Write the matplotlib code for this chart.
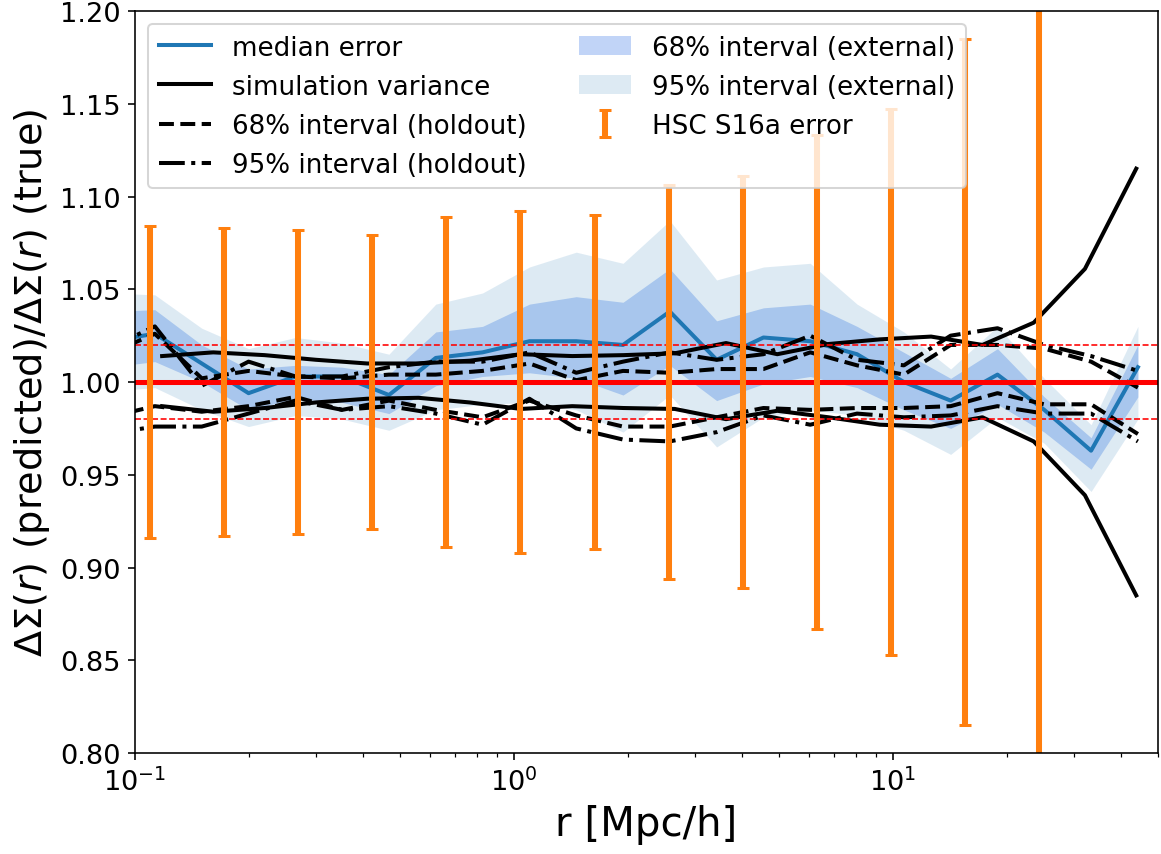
import matplotlib.pyplot as plt

# radial bins of the emulator test (Mpc/h)
r = [0.0849, 0.1128, 0.150, 0.1993, 0.265, 0.352, 0.4677, 0.6216, 0.826, 1.098,
     1.459, 1.939, 2.576, 3.424, 4.550, 6.046, 8.035, 10.68, 14.19, 18.86,
     25.06, 33.30, 44.26]

median_err = [1.022, 1.026, 1.010, 0.994, 1.003, 1.003, 0.993, 1.013, 1.016, 1.022,
              1.022, 1.020, 1.038, 1.012, 1.024, 1.022, 1.015, 1.000, 0.990, 1.004,
              0.985, 0.963, 1.008]

ext68_hi = [1.038, 1.039, 1.020, 1.007, 1.009, 1.008, 1.004, 1.027, 1.030, 1.042,
            1.046, 1.043, 1.061, 1.033, 1.040, 1.042, 1.030, 1.016, 1.002, 1.018,
            0.992, 0.970, 1.020]
ext68_lo = [1.008, 1.011, 1.000, 0.985, 0.991, 0.989, 0.983, 0.998, 1.003, 1.005,
            1.002, 0.993, 1.009, 0.990, 0.999, 1.003, 0.997, 0.985, 0.975, 0.988,
            0.973, 0.953, 0.992]
ext95_hi = [1.048, 1.047, 1.029, 1.018, 1.024, 1.021, 1.015, 1.042, 1.048, 1.062,
            1.070, 1.064, 1.087, 1.055, 1.062, 1.064, 1.042, 1.027, 1.007, 1.030,
            1.002, 0.977, 1.030]
ext95_lo = [0.995, 0.997, 0.985, 0.976, 0.982, 0.980, 0.974, 0.985, 0.988, 0.989,
            0.985, 0.973, 0.993, 0.965, 0.981, 0.985, 0.982, 0.974, 0.961, 0.981,
            0.967, 0.941, 0.980]

hold68_hi = [1.015, 1.026, 1.002, 1.006, 1.003, 1.002, 1.004, 1.004, 1.006, 1.010,
             1.001, 1.006, 1.005, 1.007, 1.007, 1.016, 1.009, 1.004, 1.020, 1.020,
             1.018, 1.011, 0.997]
hold68_lo = [0.981, 0.987, 0.984, 0.987, 0.992, 0.985, 0.990, 0.985, 0.981, 0.990,
             0.982, 0.976, 0.976, 0.981, 0.986, 0.985, 0.986, 0.986, 0.987, 0.994,
             0.988, 0.988, 0.972]
hold95_hi = [1.018, 1.030, 0.998, 1.011, 1.003, 1.003, 1.008, 1.011, 1.011, 1.016,
             1.005, 1.011, 1.016, 1.012, 1.015, 1.025, 1.012, 1.009, 1.025, 1.029,
             1.020, 1.014, 1.006]
hold95_lo = [0.972, 0.976, 0.976, 0.983, 0.990, 0.985, 0.987, 0.983, 0.977, 0.991,
             0.975, 0.969, 0.968, 0.973, 0.982, 0.977, 0.983, 0.981, 0.982, 0.987,
             0.983, 0.983, 0.968]

# simulation variance, its own bins
r_sim = [0.1179, 0.1609, 0.2197, 0.2999, 0.4097, 0.5595, 0.7637, 1.043, 1.424, 1.945,
         2.655, 3.625, 4.950, 6.760, 9.228, 12.60, 17.21, 23.50, 32.08, 43.81]
sim_hi = [1.014, 1.016, 1.0145, 1.012, 1.010, 1.010, 1.0115, 1.015, 1.014, 1.0145,
          1.0155, 1.021, 1.015, 1.0205, 1.023, 1.0245, 1.020, 1.032, 1.061, 1.115]
sim_lo = [0.987, 0.984, 0.986, 0.989, 0.991, 0.9915, 0.989, 0.9855, 0.987, 0.986,
          0.9855, 0.980, 0.9845, 0.981, 0.977, 0.976, 0.981, 0.968, 0.939, 0.885]

# HSC S16a error bars
r_hsc = [0.1096, 0.1718, 0.2696, 0.4227, 0.6631, 1.040, 1.632, 2.559, 4.014, 6.297,
         9.876, 15.49, 24.30]
hsc_err = [0.084, 0.083, 0.082, 0.079, 0.089, 0.092, 0.090, 0.106, 0.111, 0.133,
           0.147, 0.185, 0.280]
ones_hsc = [1.0] * len(r_hsc)

fig, ax = plt.subplots(figsize=(1161 / 145, 855 / 145), dpi=145)
fig.subplots_adjust(left=0.1163, right=0.9974, top=0.986, bottom=0.118)

f68 = ax.fill_between(r, ext68_lo, ext68_hi, color='cornflowerblue', alpha=0.4,
                      lw=0, label='68% interval (external)')
f95 = ax.fill_between(r, ext95_lo, ext95_hi, color='C0', alpha=0.15,
                      lw=0, label='95% interval (external)')

l_med, = ax.plot(r, median_err, color='C0', lw=2, label='median error')
l_sim, = ax.plot(r_sim, sim_hi, color='k', lw=2, label='simulation variance')
ax.plot(r_sim, sim_lo, color='k', lw=2)
l_68, = ax.plot(r, hold68_hi, color='k', ls='--', lw=2, label='68% interval (holdout)')
ax.plot(r, hold68_lo, color='k', ls='--', lw=2)
l_95, = ax.plot(r, hold95_hi, color='k', ls='-.', lw=2, label='95% interval (holdout)')
ax.plot(r, hold95_lo, color='k', ls='-.', lw=2)

ax.axhline(1.0, color='red', lw=2.5)
ax.axhline(1.02, color='red', lw=0.8, ls='--')
ax.axhline(0.98, color='red', lw=0.8, ls='--')

eb = ax.errorbar(r_hsc, ones_hsc, yerr=hsc_err, fmt='none', ecolor='C1',
                 elinewidth=3, capsize=3, capthick=1.5, label='HSC S16a error')

ax.set_xscale('log')
ax.set_xlim(0.1, 50)
ax.set_ylim(0.8, 1.2)
ax.tick_params(labelsize=13.5)
ax.set_xlabel('r [Mpc/h]', fontsize=20)
ax.set_ylabel(r'$\Delta\Sigma(r)$ (predicted)/$\Delta\Sigma(r)$ (true)', fontsize=19)

ax.legend(handles=[l_med, l_sim, l_68, l_95, f68, f95, eb], ncol=2,
          loc='upper left', fontsize=13)

fig.savefig('out.png', dpi=145)
